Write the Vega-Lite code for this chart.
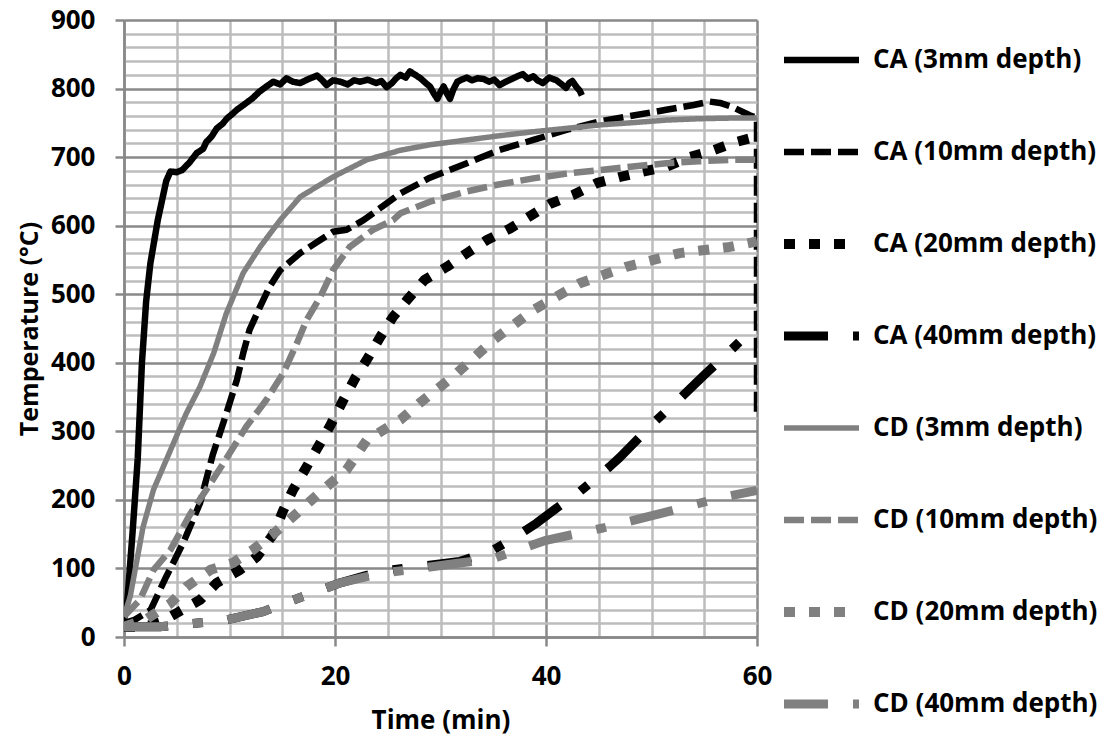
{
  "$schema": "https://vega.github.io/schema/vega-lite/v6.json",
  "width": 633,
  "height": 617,
  "autosize": "none",
  "padding": {"left": 124, "top": 20, "right": 354, "bottom": 107},
  "background": "white",
  "config": {
    "view": {"stroke": null},
    "font": "Open Sans",
    "legend": {
      "title": null, "orient": "none", "legendX": 655, "legendY": 10,
      "symbolType": "stroke", "symbolSize": 5625, "rowPadding": 32, "clipHeight": 60,
      "labelFont": "Open Sans", "labelFontSize": 26, "labelFontWeight": "bold", "labelColor": "#000",
      "labelOffset": 9, "labelLimit": 400
    }
  },
  "data": {"values": [
    {"s":"CA (3mm depth)","t":0,"T":25},{"s":"CA (3mm depth)","t":0.3,"T":50},{"s":"CA (3mm depth)","t":0.8,"T":150},{"s":"CA (3mm depth)","t":1.3,"T":260},{"s":"CA (3mm depth)","t":1.7,"T":400},{"s":"CA (3mm depth)","t":2.1,"T":490},{"s":"CA (3mm depth)","t":2.5,"T":545},{"s":"CA (3mm depth)","t":3.2,"T":608},{"s":"CA (3mm depth)","t":4,"T":665},{"s":"CA (3mm depth)","t":4.4,"T":679},{"s":"CA (3mm depth)","t":5,"T":678},{"s":"CA (3mm depth)","t":5.5,"T":681},{"s":"CA (3mm depth)","t":6.2,"T":692},{"s":"CA (3mm depth)","t":6.9,"T":706},{"s":"CA (3mm depth)","t":7.5,"T":712},{"s":"CA (3mm depth)","t":7.8,"T":722},{"s":"CA (3mm depth)","t":8.3,"T":730},{"s":"CA (3mm depth)","t":8.8,"T":742},{"s":"CA (3mm depth)","t":9.3,"T":748},{"s":"CA (3mm depth)","t":9.8,"T":757},{"s":"CA (3mm depth)","t":10.2,"T":762},{"s":"CA (3mm depth)","t":10.7,"T":769},{"s":"CA (3mm depth)","t":11.5,"T":778},{"s":"CA (3mm depth)","t":12.2,"T":786},{"s":"CA (3mm depth)","t":12.8,"T":795},{"s":"CA (3mm depth)","t":13.5,"T":803},{"s":"CA (3mm depth)","t":14.15,"T":810},{"s":"CA (3mm depth)","t":14.8,"T":806},{"s":"CA (3mm depth)","t":15.4,"T":815},{"s":"CA (3mm depth)","t":16,"T":810},{"s":"CA (3mm depth)","t":16.7,"T":808},{"s":"CA (3mm depth)","t":17.5,"T":814},{"s":"CA (3mm depth)","t":18.3,"T":819},{"s":"CA (3mm depth)","t":18.8,"T":812},{"s":"CA (3mm depth)","t":19.2,"T":805},{"s":"CA (3mm depth)","t":19.8,"T":812},{"s":"CA (3mm depth)","t":20.5,"T":810},{"s":"CA (3mm depth)","t":21.2,"T":806},{"s":"CA (3mm depth)","t":21.8,"T":812},{"s":"CA (3mm depth)","t":22.4,"T":810},{"s":"CA (3mm depth)","t":23.1,"T":813},{"s":"CA (3mm depth)","t":23.9,"T":808},{"s":"CA (3mm depth)","t":24.4,"T":811},{"s":"CA (3mm depth)","t":24.9,"T":802},{"s":"CA (3mm depth)","t":25.4,"T":808},{"s":"CA (3mm depth)","t":25.8,"T":815},{"s":"CA (3mm depth)","t":26.2,"T":820},{"s":"CA (3mm depth)","t":26.7,"T":816},{"s":"CA (3mm depth)","t":27.1,"T":825},{"s":"CA (3mm depth)","t":27.6,"T":820},{"s":"CA (3mm depth)","t":28.1,"T":815},{"s":"CA (3mm depth)","t":28.6,"T":808},{"s":"CA (3mm depth)","t":29,"T":803},{"s":"CA (3mm depth)","t":29.4,"T":792},{"s":"CA (3mm depth)","t":29.7,"T":785},{"s":"CA (3mm depth)","t":30,"T":795},{"s":"CA (3mm depth)","t":30.3,"T":803},{"s":"CA (3mm depth)","t":30.6,"T":793},{"s":"CA (3mm depth)","t":30.9,"T":785},{"s":"CA (3mm depth)","t":31.2,"T":798},{"s":"CA (3mm depth)","t":31.6,"T":810},{"s":"CA (3mm depth)","t":32,"T":813},{"s":"CA (3mm depth)","t":32.5,"T":816},{"s":"CA (3mm depth)","t":33,"T":812},{"s":"CA (3mm depth)","t":33.5,"T":815},{"s":"CA (3mm depth)","t":34.1,"T":814},{"s":"CA (3mm depth)","t":34.6,"T":810},{"s":"CA (3mm depth)","t":35.1,"T":813},{"s":"CA (3mm depth)","t":35.6,"T":805},{"s":"CA (3mm depth)","t":36.2,"T":810},{"s":"CA (3mm depth)","t":36.9,"T":815},{"s":"CA (3mm depth)","t":37.3,"T":818},{"s":"CA (3mm depth)","t":37.8,"T":821},{"s":"CA (3mm depth)","t":38.3,"T":814},{"s":"CA (3mm depth)","t":38.8,"T":818},{"s":"CA (3mm depth)","t":39.2,"T":812},{"s":"CA (3mm depth)","t":39.7,"T":808},{"s":"CA (3mm depth)","t":40.3,"T":816},{"s":"CA (3mm depth)","t":41,"T":812},{"s":"CA (3mm depth)","t":41.5,"T":806},{"s":"CA (3mm depth)","t":41.9,"T":801},{"s":"CA (3mm depth)","t":42.2,"T":808},{"s":"CA (3mm depth)","t":42.5,"T":811},{"s":"CA (3mm depth)","t":42.9,"T":802},{"s":"CA (3mm depth)","t":43.2,"T":797},{"s":"CA (3mm depth)","t":43.4,"T":790},

    {"s":"CA (10mm depth)","t":0,"T":20},{"s":"CA (10mm depth)","t":1,"T":25},{"s":"CA (10mm depth)","t":2.5,"T":39},{"s":"CA (10mm depth)","t":4,"T":88},{"s":"CA (10mm depth)","t":5.6,"T":137},{"s":"CA (10mm depth)","t":7.2,"T":195},{"s":"CA (10mm depth)","t":8.4,"T":265},{"s":"CA (10mm depth)","t":9.7,"T":326},{"s":"CA (10mm depth)","t":10.7,"T":375},{"s":"CA (10mm depth)","t":11.3,"T":414},{"s":"CA (10mm depth)","t":11.9,"T":448},{"s":"CA (10mm depth)","t":12.9,"T":482},{"s":"CA (10mm depth)","t":13.8,"T":511},{"s":"CA (10mm depth)","t":14.8,"T":535},{"s":"CA (10mm depth)","t":16.7,"T":560},{"s":"CA (10mm depth)","t":18.6,"T":579},{"s":"CA (10mm depth)","t":19.8,"T":591},{"s":"CA (10mm depth)","t":21.1,"T":594},{"s":"CA (10mm depth)","t":22.7,"T":608},{"s":"CA (10mm depth)","t":24.5,"T":628},{"s":"CA (10mm depth)","t":26.2,"T":647},{"s":"CA (10mm depth)","t":29,"T":670},{"s":"CA (10mm depth)","t":32.5,"T":691},{"s":"CA (10mm depth)","t":35.5,"T":710},{"s":"CA (10mm depth)","t":38.8,"T":725},{"s":"CA (10mm depth)","t":42,"T":740},{"s":"CA (10mm depth)","t":45.1,"T":752},{"s":"CA (10mm depth)","t":48,"T":760},{"s":"CA (10mm depth)","t":51.4,"T":769},{"s":"CA (10mm depth)","t":54,"T":776},{"s":"CA (10mm depth)","t":55.5,"T":781},{"s":"CA (10mm depth)","t":56.5,"T":779},{"s":"CA (10mm depth)","t":57.7,"T":773},{"s":"CA (10mm depth)","t":59.3,"T":761},{"s":"CA (10mm depth)","t":60,"T":757},{"s":"CA (10mm depth)","t":60,"T":320},

    {"s":"CA (20mm depth)","t":0,"T":15},{"s":"CA (20mm depth)","t":2,"T":15},{"s":"CA (20mm depth)","t":3.5,"T":22},{"s":"CA (20mm depth)","t":5,"T":35},{"s":"CA (20mm depth)","t":7.2,"T":54},{"s":"CA (20mm depth)","t":8.8,"T":79},{"s":"CA (20mm depth)","t":11,"T":98},{"s":"CA (20mm depth)","t":12.6,"T":117},{"s":"CA (20mm depth)","t":14.2,"T":151},{"s":"CA (20mm depth)","t":15.1,"T":185},{"s":"CA (20mm depth)","t":16,"T":214},{"s":"CA (20mm depth)","t":17.3,"T":248},{"s":"CA (20mm depth)","t":19.5,"T":307},{"s":"CA (20mm depth)","t":20.8,"T":346},{"s":"CA (20mm depth)","t":22,"T":380},{"s":"CA (20mm depth)","t":23,"T":404},{"s":"CA (20mm depth)","t":24.3,"T":438},{"s":"CA (20mm depth)","t":25.5,"T":467},{"s":"CA (20mm depth)","t":26.8,"T":491},{"s":"CA (20mm depth)","t":28.5,"T":521},{"s":"CA (20mm depth)","t":30.6,"T":540},{"s":"CA (20mm depth)","t":32.5,"T":560},{"s":"CA (20mm depth)","t":34.4,"T":579},{"s":"CA (20mm depth)","t":36.6,"T":596},{"s":"CA (20mm depth)","t":38.5,"T":614},{"s":"CA (20mm depth)","t":40.4,"T":632},{"s":"CA (20mm depth)","t":42.6,"T":645},{"s":"CA (20mm depth)","t":44.8,"T":662},{"s":"CA (20mm depth)","t":47,"T":671},{"s":"CA (20mm depth)","t":49.2,"T":679},{"s":"CA (20mm depth)","t":51.4,"T":686},{"s":"CA (20mm depth)","t":53.6,"T":700},{"s":"CA (20mm depth)","t":55.5,"T":708},{"s":"CA (20mm depth)","t":58,"T":722},{"s":"CA (20mm depth)","t":60,"T":730},

    {"s":"CA (40mm depth)","t":0,"T":15},{"s":"CA (40mm depth)","t":3.4,"T":15},{"s":"CA (40mm depth)","t":5.6,"T":18},{"s":"CA (40mm depth)","t":9.7,"T":25},{"s":"CA (40mm depth)","t":13.2,"T":37},{"s":"CA (40mm depth)","t":15.7,"T":52},{"s":"CA (40mm depth)","t":20.5,"T":79},{"s":"CA (40mm depth)","t":23,"T":90},{"s":"CA (40mm depth)","t":25.5,"T":98},{"s":"CA (40mm depth)","t":28,"T":103},{"s":"CA (40mm depth)","t":31.8,"T":110},{"s":"CA (40mm depth)","t":35,"T":127},{"s":"CA (40mm depth)","t":37,"T":145},{"s":"CA (40mm depth)","t":39.1,"T":166},{"s":"CA (40mm depth)","t":41,"T":188},{"s":"CA (40mm depth)","t":43.2,"T":212},{"s":"CA (40mm depth)","t":46,"T":248},{"s":"CA (40mm depth)","t":47,"T":262},{"s":"CA (40mm depth)","t":50.3,"T":314},{"s":"CA (40mm depth)","t":52.5,"T":345},{"s":"CA (40mm depth)","t":55.2,"T":385},{"s":"CA (40mm depth)","t":57.7,"T":421},{"s":"CA (40mm depth)","t":60,"T":455},

    {"s":"CD (3mm depth)","t":0,"T":30},{"s":"CD (3mm depth)","t":0.6,"T":60},{"s":"CD (3mm depth)","t":1.8,"T":160},{"s":"CD (3mm depth)","t":2.8,"T":215},{"s":"CD (3mm depth)","t":4,"T":258},{"s":"CD (3mm depth)","t":5.9,"T":326},{"s":"CD (3mm depth)","t":7.2,"T":365},{"s":"CD (3mm depth)","t":8.5,"T":414},{"s":"CD (3mm depth)","t":9.7,"T":472},{"s":"CD (3mm depth)","t":11.3,"T":531},{"s":"CD (3mm depth)","t":12.9,"T":569},{"s":"CD (3mm depth)","t":14.8,"T":608},{"s":"CD (3mm depth)","t":16.7,"T":642},{"s":"CD (3mm depth)","t":19.8,"T":671},{"s":"CD (3mm depth)","t":23,"T":696},{"s":"CD (3mm depth)","t":26.2,"T":710},{"s":"CD (3mm depth)","t":29,"T":718},{"s":"CD (3mm depth)","t":32.5,"T":725},{"s":"CD (3mm depth)","t":35.5,"T":731},{"s":"CD (3mm depth)","t":38.8,"T":737},{"s":"CD (3mm depth)","t":42,"T":742},{"s":"CD (3mm depth)","t":45.1,"T":747},{"s":"CD (3mm depth)","t":48,"T":750},{"s":"CD (3mm depth)","t":51.4,"T":754},{"s":"CD (3mm depth)","t":54.5,"T":756},{"s":"CD (3mm depth)","t":57.7,"T":757},{"s":"CD (3mm depth)","t":60,"T":757},

    {"s":"CD (10mm depth)","t":0,"T":30},{"s":"CD (10mm depth)","t":1.5,"T":54},{"s":"CD (10mm depth)","t":2.8,"T":98},{"s":"CD (10mm depth)","t":4.4,"T":127},{"s":"CD (10mm depth)","t":6.3,"T":180},{"s":"CD (10mm depth)","t":8.2,"T":224},{"s":"CD (10mm depth)","t":9.4,"T":253},{"s":"CD (10mm depth)","t":11.6,"T":307},{"s":"CD (10mm depth)","t":13.5,"T":346},{"s":"CD (10mm depth)","t":15.1,"T":385},{"s":"CD (10mm depth)","t":16.4,"T":429},{"s":"CD (10mm depth)","t":17.3,"T":462},{"s":"CD (10mm depth)","t":18.6,"T":496},{"s":"CD (10mm depth)","t":19.8,"T":535},{"s":"CD (10mm depth)","t":21.4,"T":569},{"s":"CD (10mm depth)","t":23.6,"T":594},{"s":"CD (10mm depth)","t":25.5,"T":608},{"s":"CD (10mm depth)","t":26.2,"T":618},{"s":"CD (10mm depth)","t":29,"T":635},{"s":"CD (10mm depth)","t":32.5,"T":650},{"s":"CD (10mm depth)","t":35.5,"T":660},{"s":"CD (10mm depth)","t":38.8,"T":669},{"s":"CD (10mm depth)","t":42,"T":676},{"s":"CD (10mm depth)","t":45.1,"T":681},{"s":"CD (10mm depth)","t":48,"T":686},{"s":"CD (10mm depth)","t":51.4,"T":691},{"s":"CD (10mm depth)","t":54.5,"T":694},{"s":"CD (10mm depth)","t":57.7,"T":696},{"s":"CD (10mm depth)","t":60,"T":696},

    {"s":"CD (20mm depth)","t":0,"T":15},{"s":"CD (20mm depth)","t":2,"T":25},{"s":"CD (20mm depth)","t":4.4,"T":49},{"s":"CD (20mm depth)","t":5.9,"T":73},{"s":"CD (20mm depth)","t":8.2,"T":98},{"s":"CD (20mm depth)","t":10.3,"T":108},{"s":"CD (20mm depth)","t":12.2,"T":127},{"s":"CD (20mm depth)","t":14.2,"T":151},{"s":"CD (20mm depth)","t":16.7,"T":185},{"s":"CD (20mm depth)","t":19.2,"T":219},{"s":"CD (20mm depth)","t":21.1,"T":244},{"s":"CD (20mm depth)","t":23,"T":287},{"s":"CD (20mm depth)","t":26.2,"T":317},{"s":"CD (20mm depth)","t":28,"T":341},{"s":"CD (20mm depth)","t":31.2,"T":380},{"s":"CD (20mm depth)","t":35,"T":433},{"s":"CD (20mm depth)","t":38.8,"T":477},{"s":"CD (20mm depth)","t":43.2,"T":516},{"s":"CD (20mm depth)","t":47.6,"T":540},{"s":"CD (20mm depth)","t":52.7,"T":560},{"s":"CD (20mm depth)","t":57.4,"T":569},{"s":"CD (20mm depth)","t":60,"T":577},

    {"s":"CD (40mm depth)","t":0,"T":15},{"s":"CD (40mm depth)","t":3.4,"T":15},{"s":"CD (40mm depth)","t":5.6,"T":18},{"s":"CD (40mm depth)","t":9.7,"T":25},{"s":"CD (40mm depth)","t":13.2,"T":37},{"s":"CD (40mm depth)","t":15.7,"T":52},{"s":"CD (40mm depth)","t":20.5,"T":79},{"s":"CD (40mm depth)","t":23,"T":88},{"s":"CD (40mm depth)","t":25.5,"T":95},{"s":"CD (40mm depth)","t":28,"T":100},{"s":"CD (40mm depth)","t":31.8,"T":108},{"s":"CD (40mm depth)","t":34.7,"T":113},{"s":"CD (40mm depth)","t":37,"T":125},{"s":"CD (40mm depth)","t":40,"T":141},{"s":"CD (40mm depth)","t":45.4,"T":159},{"s":"CD (40mm depth)","t":51.1,"T":181},{"s":"CD (40mm depth)","t":56.5,"T":203},{"s":"CD (40mm depth)","t":60,"T":214}
  ]},
  "mark": {"type": "line", "clip": true, "strokeCap": "butt", "strokeJoin": "round"},
  "encoding": {
    "x": {
      "field": "t", "type": "quantitative",
      "scale": {"domain": [0, 60], "nice": false, "zero": false},
      "axis": {
        "title": "Time (min)",
        "values": [0,5,10,15,20,25,30,35,40,45,50,55,60],
        "labelExpr": "datum.value % 20 === 0 ? datum.label : ''",
        "grid": true,
        "gridColor": {"condition": {"test": "datum.value % 20 === 0", "value": "#898989"}, "value": "#bdbdbd"},
        "gridWidth": 2.5,
        "domain": true, "domainColor": "#898989", "domainWidth": 2.5,
        "ticks": true, "tickSize": 9, "tickWidth": 2.5, "tickColor": "#898989",
        "tickOpacity": {"condition": {"test": "datum.value % 20 === 0", "value": 1}, "value": 0},
        "labelFont": "Open Sans", "labelFontSize": 26, "labelFontWeight": "bold", "labelColor": "#000",
        "labelPadding": 17, "labelFlush": false, "labelOverlap": false,
        "titleFont": "Open Sans", "titleFontSize": 26, "titleFontWeight": "bold", "titleColor": "#000",
        "titlePadding": 18
      }
    },
    "y": {
      "field": "T", "type": "quantitative",
      "scale": {"domain": [0, 900], "nice": false},
      "axis": {
        "title": "Temperature (°C)",
        "values": [0,20,40,60,80,100,120,140,160,180,200,220,240,260,280,300,320,340,360,380,400,420,440,460,480,500,520,540,560,580,600,620,640,660,680,700,720,740,760,780,800,820,840,860,880,900],
        "labelExpr": "datum.value % 100 === 0 ? datum.label : ''",
        "grid": true,
        "gridColor": {"condition": {"test": "datum.value % 100 === 0", "value": "#898989"}, "value": "#bdbdbd"},
        "gridWidth": 2.5,
        "domain": true, "domainColor": "#898989", "domainWidth": 2.5,
        "ticks": true, "tickSize": 9, "tickWidth": 2.5, "tickColor": "#898989",
        "tickOpacity": {"condition": {"test": "datum.value % 100 === 0", "value": 1}, "value": 0},
        "labelFont": "Open Sans", "labelFontSize": 26, "labelFontWeight": "bold", "labelColor": "#000",
        "labelPadding": 20, "labelFlush": false, "labelOverlap": false,
        "titleFont": "Open Sans", "titleFontSize": 25, "titleFontWeight": "bold", "titleColor": "#000",
        "titlePadding": 8
      }
    },
    "order": {"value": null},
    "color": {
      "field": "s", "type": "nominal",
      "scale": {
        "domain": ["CA (3mm depth)","CA (10mm depth)","CA (20mm depth)","CA (40mm depth)","CD (3mm depth)","CD (10mm depth)","CD (20mm depth)","CD (40mm depth)"],
        "range": ["#000000","#000000","#000000","#000000","#808080","#808080","#808080","#808080"]
      }
    },
    "strokeDash": {
      "field": "s", "type": "nominal",
      "scale": {
        "domain": ["CA (3mm depth)","CA (10mm depth)","CA (20mm depth)","CA (40mm depth)","CD (3mm depth)","CD (10mm depth)","CD (20mm depth)","CD (40mm depth)"],
        "range": [[1,0],[20,7],[11,14],[44,25,10,25],[1,0],[20,7],[11,14],[44,25,10,25]]
      }
    },
    "strokeWidth": {
      "field": "s", "type": "nominal",
      "scale": {
        "type": "ordinal",
        "domain": ["CA (3mm depth)","CA (10mm depth)","CA (20mm depth)","CA (40mm depth)","CD (3mm depth)","CD (10mm depth)","CD (20mm depth)","CD (40mm depth)"],
        "range": [6.5,6.5,10,9,5.5,6.5,10,9]
      }
    }
  }
}
